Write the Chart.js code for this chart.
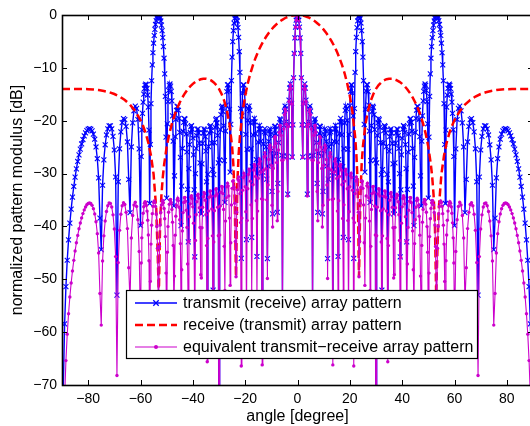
<!DOCTYPE html>
<html>
<head>
<meta charset="utf-8">
<script src="https://cdn.jsdelivr.net/npm/chart.js@4.4.1/dist/chart.umd.min.js"></script>
<style>
  html, body { margin: 0; padding: 0; background: #fff; overflow: hidden; width: 530px; height: 426px; }
  canvas { display: block; }
</style>
</head>
<body>
<canvas id="c" width="540" height="426" style="width:540px;height:426px"></canvas>
<script>
// Sampling angles (degrees) for the transmit and equivalent patterns
const angles = [
  -90,-89.5,-89,-88.5,-88,-87.5,-87,-86.5,-86,-85.5,
  -85,-84.5,-84,-83.5,-83,-82.5,-82,-81.5,-81,-80.5,
  -80,-79.5,-79,-78.5,-78,-77.5,-77,-76.5,-76,-75.5,
  -75,-74.5,-74,-73.5,-73,-72.5,-72,-71.5,-71,-70.5,
  -70,-69.5,-69,-68.5,-68,-67.5,-67,-66.5,-66,-65.5,
  -65,-64.5,-64,-63.5,-63,-62.5,-62,-61.5,-61,-60.5,
  -60,-59.75,-59.5,-59.25,-59,-58.75,-58.5,-58.25,
  -58,-57.75,-57.5,-57.25,-57,-56.75,-56.5,-56.25,
  -56,-55.75,-55.5,-55.25,-55,-54.75,-54.5,-54.25,
  -54,-53.75,-53.5,-53.25,-53,-52.75,-52.5,-52.25,
  -52,-51.75,-51.5,-51.25,-51,-50.75,-50.5,-50.25,
  -50,-49.75,-49.5,-49.25,-49,-48.75,-48.5,-48.25,
  -48,-47.75,-47.5,-47.25,-47,-46.75,-46.5,-46.25,
  -46,-45.75,-45.5,-45.25,-45,-44.75,-44.5,-44.25,
  -44,-43.75,-43.5,-43.25,-43,-42.75,-42.5,-42.25,
  -42,-41.75,-41.5,-41.25,-41,-40.75,-40.5,-40.25,
  -40,-39.75,-39.5,-39.25,-39,-38.75,-38.5,-38.25,
  -38,-37.75,-37.5,-37.25,-37,-36.75,-36.5,-36.25,
  -36,-35.75,-35.5,-35.25,-35,-34.75,-34.5,-34.25,
  -34,-33.75,-33.5,-33.25,-33,-32.75,-32.5,-32.25,
  -32,-31.75,-31.5,-31.25,-31,-30.75,-30.5,-30.25,
  -30,-29.75,-29.5,-29.25,-29,-28.75,-28.5,-28.25,
  -28,-27.75,-27.5,-27.25,-27,-26.75,-26.5,-26.25,
  -26,-25.75,-25.5,-25.25,-25,-24.75,-24.5,-24.25,
  -24,-23.75,-23.5,-23.25,-23,-22.75,-22.5,-22.25,
  -22,-21.75,-21.5,-21.25,-21,-20.75,-20.5,-20.25,
  -20,-19.75,-19.5,-19.25,-19,-18.75,-18.5,-18.25,
  -18,-17.75,-17.5,-17.25,-17,-16.75,-16.5,-16.25,
  -16,-15.75,-15.5,-15.25,-15,-14.75,-14.5,-14.25,
  -14,-13.75,-13.5,-13.25,-13,-12.75,-12.5,-12.25,
  -12,-11.75,-11.5,-11.25,-11,-10.75,-10.5,-10.25,
  -10,-9.75,-9.5,-9.25,-9,-8.75,-8.5,-8.25,
  -8,-7.75,-7.5,-7.25,-7,-6.75,-6.5,-6.25,
  -6,-5.75,-5.5,-5.25,-5,-4.75,-4.5,-4.25,
  -4,-3.75,-3.5,-3.25,-3,-2.75,-2.5,-2.25,
  -2,-1.75,-1.5,-1.25,-1,-0.75,-0.5,-0.25,
  0,
  0.25,0.5,0.75,1,1.25,1.5,1.75,2,
  2.25,2.5,2.75,3,3.25,3.5,3.75,4,
  4.25,4.5,4.75,5,5.25,5.5,5.75,6,
  6.25,6.5,6.75,7,7.25,7.5,7.75,8,
  8.25,8.5,8.75,9,9.25,9.5,9.75,10,
  10.25,10.5,10.75,11,11.25,11.5,11.75,12,
  12.25,12.5,12.75,13,13.25,13.5,13.75,14,
  14.25,14.5,14.75,15,15.25,15.5,15.75,16,
  16.25,16.5,16.75,17,17.25,17.5,17.75,18,
  18.25,18.5,18.75,19,19.25,19.5,19.75,20,
  20.25,20.5,20.75,21,21.25,21.5,21.75,22,
  22.25,22.5,22.75,23,23.25,23.5,23.75,24,
  24.25,24.5,24.75,25,25.25,25.5,25.75,26,
  26.25,26.5,26.75,27,27.25,27.5,27.75,28,
  28.25,28.5,28.75,29,29.25,29.5,29.75,30,
  30.25,30.5,30.75,31,31.25,31.5,31.75,32,
  32.25,32.5,32.75,33,33.25,33.5,33.75,34,
  34.25,34.5,34.75,35,35.25,35.5,35.75,36,
  36.25,36.5,36.75,37,37.25,37.5,37.75,38,
  38.25,38.5,38.75,39,39.25,39.5,39.75,40,
  40.25,40.5,40.75,41,41.25,41.5,41.75,42,
  42.25,42.5,42.75,43,43.25,43.5,43.75,44,
  44.25,44.5,44.75,45,45.25,45.5,45.75,46,
  46.25,46.5,46.75,47,47.25,47.5,47.75,48,
  48.25,48.5,48.75,49,49.25,49.5,49.75,50,
  50.25,50.5,50.75,51,51.25,51.5,51.75,52,
  52.25,52.5,52.75,53,53.25,53.5,53.75,54,
  54.25,54.5,54.75,55,55.25,55.5,55.75,56,
  56.25,56.5,56.75,57,57.25,57.5,57.75,58,
  58.25,58.5,58.75,59,59.25,59.5,59.75,60,
  60.5,61,61.5,62,62.5,63,63.5,64,64.5,65,
  65.5,66,66.5,67,67.5,68,68.5,69,69.5,70,
  70.5,71,71.5,72,72.5,73,73.5,74,74.5,75,
  75.5,76,76.5,77,77.5,78,78.5,79,79.5,80,
  80.5,81,81.5,82,82.5,83,83.5,84,84.5,85,
  85.5,86,86.5,87,87.5,88,88.5,89,89.5,90
];

// Transmit (receive) array pattern, dB
const transmitDb = [
  -100,-70.5,-58.44,-51.40,-46.40,-42.54,-39.39,-36.73,-34.44,-32.44,
  -30.67,-29.10,-27.71,-26.46,-25.37,-24.40,-23.56,-22.86,-22.30,-21.88,
  -21.61,-21.51,-21.61,-21.93,-22.54,-23.50,-24.97,-27.19,-30.83,-38.44,
  -44.39,-32.21,-27.41,-24.55,-22.70,-21.54,-20.97,-20.96,-21.56,-22.95,
  -25.54,-30.65,-53.01,-31.55,-25.31,-22.11,-20.35,-19.60,-19.79,-21.07,
  -24.02,-31.10,-37.40,-24.97,-20.42,-18.12,-17.25,-17.67,-19.77,-25.34,
  -39.86,-26.77,-21.74,-18.61,-16.49,-14.96,-13.94,-13.29,
  -13.06,-13.21,-13.87,-15.14,-17.44,-21.77,-35.66,-24.50,
  -16.76,-12.44,-9.43,-7.14,-5.34,-3.88,-2.71,-1.79,
  -1.07,-0.54,-0.19,-0.02,-0.02,-0.21,-0.57,-1.13,
  -1.92,-2.95,-4.28,-5.98,-8.18,-11.13,-15.40,-23.12,
  -34.64,-20.58,-16.39,-14.27,-13.31,-13.05,-13.45,-14.46,
  -16.25,-19.07,-23.88,-36.12,-30.43,-23.02,-19.77,-18.05,
  -17.31,-17.30,-18.02,-19.55,-22.20,-26.95,-39.86,-32.38,
  -25.25,-21.99,-20.31,-19.60,-19.71,-20.61,-22.51,-25.92,
  -33.00,-42.92,-29.07,-24.51,-22.22,-21.11,-20.92,-21.59,
  -23.27,-26.45,-33.07,-45.77,-30.01,-25.23,-22.84,-21.70,
  -21.56,-22.32,-24.24,-27.98,-36.96,-37.62,-28.16,-24.28,
  -22.33,-21.54,-21.75,-23.01,-25.75,-31.55,-53.49,-30.16,
  -24.91,-22.29,-21.10,-20.95,-21.89,-24.22,-29.23,-52.03,
  -30.20,-24.15,-21.25,-19.84,-19.59,-20.43,-22.77,-27.98,
  -100,-27.43,-21.70,-18.84,-17.49,-17.26,-18.26,-20.92,
  -27.54,-35.47,-21.95,-17.06,-14.50,-13.23,-13.16,-14.38,
  -17.83,-29.73,-20.70,-12.42,-7.97,-5.03,-2.96,-1.52,
  -0.59,-0.10,-0.01,-0.36,-1.13,-2.38,-4.24,-6.91,
  -10.87,-17.69,-46.03,-19.07,-14.76,-13.23,-13.21,-14.44,
  -17.18,-22.57,-42.51,-25.41,-19.92,-17.72,-17.23,-18.04,
  -20.40,-25.30,-42.08,-28.67,-22.69,-20.24,-19.56,-20.22,
  -22.47,-27.37,-45.69,-29.93,-24.05,-21.59,-20.89,-21.57,
  -23.91,-29.18,-60.8,-29.75,-24.39,-22.10,-21.51,-22.34,
  -24.94,-31.04,-46.09,-28.57,-23.92,-21.93,-21.54,-22.62,
  -25.67,-33.36,-37.62,-26.67,-22.77,-21.12,-21.02,-22.44,
  -26.18,-37.32,-31.87,-24.14,-20.92,-19.63,-19.85,-21.72,
  -26.53,-53.65,-26.65,-20.82,-18.18,-17.22,-17.77,-20.18,
  -26.76,-33.89,-20.80,-16.09,-13.83,-13.02,-13.78,-16.69,
  -26.88,-20.79,-11.87,-7.28,-4.32,-2.31,-0.99,-0.25,
  0,
  -0.25,-0.99,-2.31,-4.32,-7.28,-11.87,-20.79,-26.88,
  -16.69,-13.78,-13.02,-13.83,-16.09,-20.80,-33.89,-26.76,
  -20.18,-17.77,-17.22,-18.18,-20.82,-26.65,-53.65,-26.53,
  -21.72,-19.85,-19.63,-20.92,-24.14,-31.87,-37.32,-26.18,
  -22.44,-21.02,-21.12,-22.77,-26.67,-37.62,-33.36,-25.67,
  -22.62,-21.54,-21.93,-23.92,-28.57,-46.09,-31.04,-24.94,
  -22.34,-21.51,-22.10,-24.39,-29.75,-60.8,-29.18,-23.91,
  -21.57,-20.89,-21.59,-24.05,-29.93,-45.69,-27.37,-22.47,
  -20.22,-19.56,-20.24,-22.69,-28.67,-42.08,-25.30,-20.40,
  -18.04,-17.23,-17.72,-19.92,-25.41,-42.51,-22.57,-17.18,
  -14.44,-13.21,-13.23,-14.76,-19.07,-46.03,-17.69,-10.87,
  -6.91,-4.24,-2.38,-1.13,-0.36,-0.01,-0.10,-0.59,
  -1.52,-2.96,-5.03,-7.97,-12.42,-20.70,-29.73,-17.83,
  -14.38,-13.16,-13.23,-14.50,-17.06,-21.95,-35.47,-27.54,
  -20.92,-18.26,-17.26,-17.49,-18.84,-21.70,-27.43,-100,
  -27.98,-22.77,-20.43,-19.59,-19.84,-21.25,-24.15,-30.20,
  -52.03,-29.23,-24.22,-21.89,-20.95,-21.10,-22.29,-24.91,
  -30.16,-53.49,-31.55,-25.75,-23.01,-21.75,-21.54,-22.33,
  -24.28,-28.16,-37.62,-36.96,-27.98,-24.24,-22.32,-21.56,
  -21.70,-22.84,-25.23,-30.01,-45.77,-33.07,-26.45,-23.27,
  -21.59,-20.92,-21.11,-22.22,-24.51,-29.07,-42.92,-33.00,
  -25.92,-22.51,-20.61,-19.71,-19.60,-20.31,-21.99,-25.25,
  -32.38,-39.86,-26.95,-22.20,-19.55,-18.02,-17.30,-17.31,
  -18.05,-19.77,-23.02,-30.43,-36.12,-23.88,-19.07,-16.25,
  -14.46,-13.45,-13.05,-13.31,-14.27,-16.39,-20.58,-34.64,
  -23.12,-15.40,-11.13,-8.18,-5.98,-4.28,-2.95,-1.92,
  -1.13,-0.57,-0.21,-0.02,-0.02,-0.19,-0.54,-1.07,
  -1.79,-2.71,-3.88,-5.34,-7.14,-9.43,-12.44,-16.76,
  -24.50,-35.66,-21.77,-17.44,-15.14,-13.87,-13.21,-13.06,
  -13.29,-13.94,-14.96,-16.49,-18.61,-21.74,-26.77,-39.86,
  -25.34,-19.77,-17.67,-17.25,-18.12,-20.42,-24.97,-37.40,-31.10,-24.02,
  -21.07,-19.79,-19.60,-20.35,-22.11,-25.31,-31.55,-53.01,-30.65,-25.54,
  -22.95,-21.56,-20.96,-20.97,-21.54,-22.70,-24.55,-27.41,-32.21,-44.39,
  -38.44,-30.83,-27.19,-24.97,-23.50,-22.54,-21.93,-21.61,-21.51,-21.61,
  -21.88,-22.30,-22.86,-23.56,-24.40,-25.37,-26.46,-27.71,-29.10,-30.67,
  -32.44,-34.44,-36.73,-39.39,-42.54,-46.40,-51.40,-58.44,-70.5,-100
];

// Equivalent transmit-receive array pattern, dB
const equivalentDb = [
  -100,-84.5,-72.4,-65.38,-60.38,-56.52,-53.36,-50.71,-48.42,-46.42,
  -44.66,-43.09,-41.70,-40.45,-39.36,-38.39,-37.57,-36.87,-36.32,-35.90,
  -35.64,-35.56,-35.67,-36.01,-36.64,-37.63,-39.12,-41.37,-45.04,-52.68,
  -58.67,-46.54,-41.78,-38.97,-37.18,-36.08,-35.58,-35.64,-36.33,-37.81,
  -40.50,-45.71,-68.2,-46.84,-40.74,-37.69,-36.08,-35.50,-35.86,-37.34,
  -40.41,-47.81,-54.25,-42.20,-37.94,-35.96,-35.42,-36.21,-38.73,-44.73,
  -59.75,-46.92,-42.16,-39.32,-37.50,-36.29,-35.60,-35.32,
  -35.46,-36.03,-37.10,-38.84,-41.62,-46.50,-60.94,-50.40,
  -43.34,-39.76,-37.58,-36.20,-35.45,-35.19,-35.44,-36.21,
  -37.65,-40.02,-44.12,-53.70,-52.96,-43.79,-39.74,-37.36,
  -35.95,-35.21,-35.07,-35.50,-36.59,-38.54,-41.92,-48.83,
  -59.60,-44.88,-40.03,-37.33,-35.79,-35.01,-34.90,-35.45,
  -36.79,-39.19,-43.59,-55.46,-49.40,-41.65,-38.06,-36.02,
  -34.97,-34.68,-35.11,-36.37,-38.75,-43.25,-55.92,-48.20,
  -40.85,-37.38,-35.48,-34.58,-34.50,-35.22,-36.93,-40.18,
  -47.09,-56.87,-42.86,-38.17,-35.73,-34.49,-34.18,-34.73,
  -36.30,-39.38,-45.90,-58.51,-42.65,-37.80,-35.33,-34.13,
  -33.91,-34.62,-36.48,-40.18,-49.12,-49.75,-40.25,-36.36,
  -34.39,-33.59,-33.80,-35.06,-37.80,-43.63,-65.6,-42.29,
  -37.06,-34.49,-33.35,-33.27,-34.28,-36.69,-41.78,-64.68,
  -42.94,-37.02,-34.23,-32.97,-32.86,-33.87,-36.36,-41.77,
  -100,-41.63,-36.12,-33.52,-32.42,-32.50,-33.79,-36.81,
  -43.77,-52.11,-38.99,-34.59,-32.51,-31.82,-32.32,-34.22,
  -38.42,-51.16,-43.10,-35.93,-32.80,-31.44,-31.37,-32.58,
  -35.61,-42.83,-49.51,-37.30,-33.08,-31.14,-30.63,-31.41,
  -33.80,-39.28,-66.4,-38.42,-33.15,-30.75,-29.93,-30.43,
  -32.48,-37.21,-56.56,-38.90,-32.86,-30.16,-29.17,-29.53,
  -31.43,-35.92,-52.27,-38.49,-32.12,-29.32,-28.28,-28.62,
  -30.54,-35.12,-53.14,-37.10,-30.93,-28.21,-27.24,-27.67,
  -29.75,-34.78,-66.2,-34.90,-29.32,-26.82,-26.03,-26.65,
  -29.06,-34.97,-49.84,-32.15,-27.33,-25.17,-24.63,-25.55,
  -28.44,-36.00,-40.10,-29.03,-24.99,-23.21,-22.99,-24.29,
  -27.92,-38.94,-33.39,-25.55,-22.24,-20.86,-20.99,-22.77,
  -27.49,-54.53,-27.45,-21.55,-18.84,-17.82,-18.31,-20.65,
  -27.18,-34.26,-21.12,-16.37,-14.06,-13.22,-13.95,-16.82,
  -26.99,-20.87,-11.93,-7.32,-4.35,-2.33,-1.00,-0.25,
  0,
  -0.25,-1.00,-2.33,-4.35,-7.32,-11.93,-20.87,-26.99,
  -16.82,-13.95,-13.22,-14.06,-16.37,-21.12,-34.26,-27.18,
  -20.65,-18.31,-17.82,-18.84,-21.55,-27.45,-54.53,-27.49,
  -22.77,-20.99,-20.86,-22.24,-25.55,-33.39,-38.94,-27.92,
  -24.29,-22.99,-23.21,-24.99,-29.03,-40.10,-36.00,-28.44,
  -25.55,-24.63,-25.17,-27.33,-32.15,-49.84,-34.97,-29.06,
  -26.65,-26.03,-26.82,-29.32,-34.90,-66.2,-34.78,-29.75,
  -27.67,-27.24,-28.21,-30.93,-37.10,-53.14,-35.12,-30.54,
  -28.62,-28.28,-29.32,-32.12,-38.49,-52.27,-35.92,-31.43,
  -29.53,-29.17,-30.16,-32.86,-38.90,-56.56,-37.21,-32.48,
  -30.43,-29.93,-30.75,-33.15,-38.42,-66.4,-39.28,-33.80,
  -31.41,-30.63,-31.14,-33.08,-37.30,-49.51,-42.83,-35.61,
  -32.58,-31.37,-31.44,-32.80,-35.93,-43.10,-51.16,-38.42,
  -34.22,-32.32,-31.82,-32.51,-34.59,-38.99,-52.11,-43.77,
  -36.81,-33.79,-32.50,-32.42,-33.52,-36.12,-41.63,-100,
  -41.77,-36.36,-33.87,-32.86,-32.97,-34.23,-37.02,-42.94,
  -64.68,-41.78,-36.69,-34.28,-33.27,-33.35,-34.49,-37.06,
  -42.29,-65.6,-43.63,-37.80,-35.06,-33.80,-33.59,-34.39,
  -36.36,-40.25,-49.75,-49.12,-40.18,-36.48,-34.62,-33.91,
  -34.13,-35.33,-37.80,-42.65,-58.51,-45.90,-39.38,-36.30,
  -34.73,-34.18,-34.49,-35.73,-38.17,-42.86,-56.87,-47.09,
  -40.18,-36.93,-35.22,-34.50,-34.58,-35.48,-37.38,-40.85,
  -48.20,-55.92,-43.25,-38.75,-36.37,-35.11,-34.68,-34.97,
  -36.02,-38.06,-41.65,-49.40,-55.46,-43.59,-39.19,-36.79,
  -35.45,-34.90,-35.01,-35.79,-37.33,-40.03,-44.88,-59.60,
  -48.83,-41.92,-38.54,-36.59,-35.50,-35.07,-35.21,-35.95,
  -37.36,-39.74,-43.79,-52.96,-53.70,-44.12,-40.02,-37.65,
  -36.21,-35.44,-35.19,-35.45,-36.20,-37.58,-39.76,-43.34,
  -50.40,-60.94,-46.50,-41.62,-38.84,-37.10,-36.03,-35.46,
  -35.32,-35.60,-36.29,-37.50,-39.32,-42.16,-46.92,-59.75,
  -44.73,-38.73,-36.21,-35.42,-35.96,-37.94,-42.20,-54.25,-47.81,-40.41,
  -37.34,-35.86,-35.50,-36.08,-37.69,-40.74,-46.84,-68.2,-45.71,-40.50,
  -37.81,-36.33,-35.64,-35.58,-36.08,-37.18,-38.97,-41.78,-46.54,-58.67,
  -52.68,-45.04,-41.37,-39.12,-37.63,-36.64,-36.01,-35.67,-35.56,-35.64,
  -35.90,-36.32,-36.87,-37.57,-38.39,-39.36,-40.45,-41.70,-43.09,-44.66,
  -46.42,-48.42,-50.71,-53.36,-56.52,-60.38,-65.38,-72.4,-84.5,-100
];

// Receive (transmit) array pattern: angles and dB values
const receiveAngles = [
  -90,-88,-86,-84,-82,-80,-78,-76,-74,-72,-70,-68,-66,-64,-62,-60,-59,-58,-57,-56,
  -55,-54,-53.5,-53,-52.5,-52,-51.5,-51,-50,-49,-48,-47,-46,-45,-44,-43,-42,-41,-40,
  -39,-38,-37,-36,-35,-34,-33,-32,-31,-30,-29,-28,-27,-26,-25,-24.5,-24,-23.5,-23,
  -22.5,-22,-21,-20,-19,-18,-17,-16,-15,-14,-13,-12,-11,-10,-9,-8,-7,-6,-5,-4,-3,-2,-1,
  0,
  1,2,3,4,5,6,7,8,9,10,11,12,13,14,15,16,17,18,19,20,21,22,22.5,
  23,23.5,24,24.5,25,26,27,28,29,30,31,32,33,34,35,36,37,38,39,40,41,42,43,44,45,
  46,47,48,49,50,51,51.5,52,52.5,53,53.5,54,55,56,57,58,59,60,62,64,66,68,70,72,74,
  76,78,80,82,84,86,88,90
];
const receiveDb = [
  -13.98,-13.98,-13.98,-13.99,-14.00,-14.04,-14.10,-14.21,-14.37,-14.61,-14.95,-15.43,-16.08,-16.96,-18.18,-19.88,-21.01,-22.40,-24.18,-26.58,
  -30.11,-36.59,-43.94,-52.94,-39.17,-34.03,-30.78,-28.40,-24.96,-22.48,-20.54,-18.97,-17.66,-16.55,-15.60,-14.79,-14.10,-13.51,-13.03,
  -12.65,-12.36,-12.16,-12.05,-12.05,-12.15,-12.38,-12.75,-13.27,-13.98,-14.94,-16.23,-18.01,-20.59,-24.83,-28.41,-35.02,-49.5,-31.96,
  -26.39,-22.93,-18.39,-15.30,-12.94,-11.03,-9.43,-8.07,-6.88,-5.84,-4.93,-4.12,-3.41,-2.77,-2.22,-1.74,-1.32,-0.96,-0.66,-0.42,-0.24,-0.10,-0.03,
  0,
  -0.03,-0.10,-0.24,-0.42,-0.66,-0.96,-1.32,-1.74,-2.22,-2.77,-3.41,-4.12,-4.93,-5.84,-6.88,-8.07,-9.43,-11.03,-12.94,-15.30,-18.39,-22.93,-26.39,
  -31.96,-49.5,-35.02,-28.41,-24.83,-20.59,-18.01,-16.23,-14.94,-13.98,-13.27,-12.75,-12.38,-12.15,-12.05,-12.05,-12.16,-12.36,-12.65,-13.03,-13.51,-14.10,-14.79,-15.60,-16.55,
  -17.66,-18.97,-20.54,-22.48,-24.96,-28.40,-30.78,-34.03,-39.17,-52.94,-43.94,-36.59,-30.11,-26.58,-24.18,-22.40,-21.01,-19.88,-18.18,-16.96,-16.08,-15.43,-14.95,-14.61,-14.37,
  -14.21,-14.10,-14.04,-14.00,-13.99,-13.98,-13.98,-13.98
];

// Axis tick values and labels
const xTicks = [-80, -60, -40, -20, 0, 20, 40, 60, 80];
const yTicks = [0, -10, -20, -30, -40, -50, -60, -70];
const xTitle = 'angle [degree]';
const yTitle = 'normalized pattern modulus [dB]';
const seriesNames = [
  'transmit (receive) array pattern',
  'receive (transmit) array pattern',
  'equivalent transmit\u2212receive array pattern'
];

const BLUE = '#0000ff';
const RED = '#ff0000';
const MAGENTA = '#cc00cc';
const FONT = "'Liberation Sans', Arial, Helvetica, sans-serif";

const toPoints = (xs, ys) => xs.map((a, i) => ({ x: a, y: ys[i] }));
const fmt = v => (v < 0 ? '\u2212' + Math.abs(v) : String(v));

function drawCross(ctx, x, y, r) {
  ctx.beginPath();
  ctx.moveTo(x - r, y - r); ctx.lineTo(x + r, y + r);
  ctx.moveTo(x - r, y + r); ctx.lineTo(x + r, y - r);
  ctx.stroke();
}

// Box frame with inward ticks on all four sides, plus the boxed legend
const framePlugin = {
  id: 'frame',
  afterDraw(chart) {
    const { ctx, chartArea: a, scales: { x, y } } = chart;
    ctx.save();
    ctx.strokeStyle = '#000';
    ctx.lineWidth = 1;
    ctx.setLineDash([]);
    ctx.beginPath();
    xTicks.forEach(v => {
      const px = Math.round(x.getPixelForValue(v)) + 0.5;
      ctx.moveTo(px, a.bottom); ctx.lineTo(px, a.bottom - 5);
      ctx.moveTo(px, a.top); ctx.lineTo(px, a.top + 5);
    });
    yTicks.forEach(v => {
      const py = Math.round(y.getPixelForValue(v)) + 0.5;
      ctx.moveTo(a.left, py); ctx.lineTo(a.left + 5, py);
      ctx.moveTo(a.right, py); ctx.lineTo(a.right - 5, py);
    });
    ctx.stroke();
    ctx.lineWidth = 1.6;
    ctx.strokeRect(Math.round(a.left) + 0.5, Math.round(a.top) + 0.5,
      Math.round(a.right - a.left), Math.round(a.bottom - a.top));

    // legend
    const lx = Math.round(a.left) + 64, ly = Math.round(a.top) + 275;
    const lw = 351, lh = 68;
    ctx.fillStyle = '#fff';
    ctx.fillRect(lx, ly, lw, lh);
    ctx.lineWidth = 1.2;
    ctx.strokeStyle = '#000';
    ctx.strokeRect(lx + 0.5, ly + 0.5, lw, lh);
    const rows = [ly + 13, ly + 35, ly + 57];
    const x0 = lx + 9, x1 = lx + 51, xm = (x0 + x1) / 2;
    // transmit
    ctx.strokeStyle = BLUE; ctx.lineWidth = 1.3;
    ctx.beginPath(); ctx.moveTo(x0, rows[0]); ctx.lineTo(x1, rows[0]); ctx.stroke();
    drawCross(ctx, xm, rows[0], 2.7);
    // receive
    ctx.strokeStyle = RED; ctx.lineWidth = 2.5; ctx.setLineDash([8, 4]);
    ctx.beginPath(); ctx.moveTo(x0, rows[1]); ctx.lineTo(x1, rows[1]); ctx.stroke();
    ctx.setLineDash([]);
    // equivalent
    ctx.strokeStyle = MAGENTA; ctx.lineWidth = 1.2;
    ctx.beginPath(); ctx.moveTo(x0, rows[2]); ctx.lineTo(x1, rows[2]); ctx.stroke();
    ctx.fillStyle = MAGENTA;
    ctx.beginPath(); ctx.arc(xm, rows[2], 2, 0, Math.PI * 2); ctx.fill();

    ctx.fillStyle = '#000';
    ctx.font = '16px ' + FONT;
    ctx.textBaseline = 'middle';
    ctx.textAlign = 'left';
    seriesNames.forEach((t, i) => ctx.fillText(t, lx + 57, rows[i] + 1));
    ctx.restore();
  }
};

new Chart(document.getElementById('c'), {
  type: 'line',
  data: {
    datasets: [
      {
        label: seriesNames[0],
        data: toPoints(angles, transmitDb),
        borderColor: BLUE,
        borderWidth: 1.4,
        pointStyle: 'crossRot',
        pointRadius: 3.5,
        pointBorderColor: BLUE,
        pointBorderWidth: 1.1,
        pointHoverRadius: 0,
        tension: 0,
        order: 3
      },
      {
        label: seriesNames[1],
        data: toPoints(receiveAngles, receiveDb),
        borderColor: RED,
        borderWidth: 2.5,
        borderDash: [8, 4],
        pointRadius: 0,
        tension: 0,
        order: 2
      },
      {
        label: seriesNames[2],
        data: toPoints(angles, equivalentDb),
        borderColor: MAGENTA,
        borderWidth: 1.1,
        pointStyle: 'circle',
        pointRadius: 1.7,
        pointBackgroundColor: MAGENTA,
        pointBorderColor: MAGENTA,
        pointBorderWidth: 0,
        pointHoverRadius: 0,
        tension: 0,
        order: 1
      }
    ]
  },
  options: {
    responsive: false,
    animation: false,
    events: [],
    devicePixelRatio: 1,
    layout: { padding: { top: 15, right: 7, left: 0, bottom: 0 } },
    plugins: { legend: { display: false }, tooltip: { enabled: false } },
    scales: {
      x: {
        type: 'linear',
        min: -90, max: 90,
        afterBuildTicks: s => { s.ticks = xTicks.map(v => ({ value: v })); },
        afterFit: s => { s.height = 41; },
        grid: { display: false, drawTicks: false },
        border: { display: false },
        ticks: { color: '#000', padding: 6, font: { family: FONT, size: 14 }, callback: fmt, maxRotation: 0 },
        title: { display: true, text: xTitle, color: '#000', font: { family: FONT, size: 16 }, padding: { top: 0, bottom: 0 } }
      },
      y: {
        type: 'linear',
        min: -70, max: 0,
        afterBuildTicks: s => { s.ticks = yTicks.map(v => ({ value: v })); },
        afterFit: s => { s.width = 62; },
        grid: { display: false, drawTicks: false },
        border: { display: false },
        ticks: { color: '#000', padding: 5, font: { family: FONT, size: 14 }, callback: fmt },
        title: { display: true, text: yTitle, color: '#000', font: { family: FONT, size: 16 }, padding: { top: 8, bottom: 0 } }
      }
    }
  },
  plugins: [framePlugin]
});
</script>
</body>
</html>
